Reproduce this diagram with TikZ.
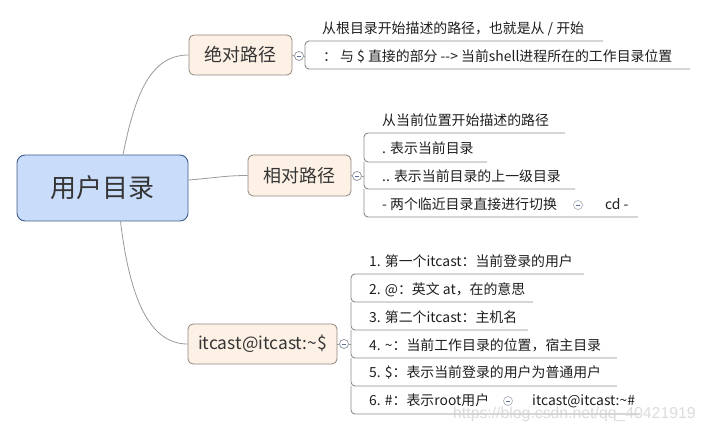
\documentclass[tikz,border=0pt]{standalone}
\usepackage{fontspec}
\setmainfont{Noto Sans CJK SC}
\newfontfamily\wmfont{Liberation Sans}
\usetikzlibrary{calc}
\definecolor{rootfill}{HTML}{C9DCFA}
\definecolor{rootdraw}{HTML}{3F5B8C}
\definecolor{branchfill}{HTML}{FDF1E6}
\definecolor{branchdraw}{HTML}{8F857C}
\definecolor{conncolor}{HTML}{9A9A9A}
\definecolor{bracketcolor}{HTML}{8A8A8A}
\definecolor{textdark}{HTML}{353535}
\definecolor{itemtext}{HTML}{1E1E1E}
\definecolor{togdraw}{HTML}{8E90A0}
\definecolor{togminus}{HTML}{5A6EA0}
\definecolor{wmcolor}{HTML}{D2D2D2}
\begin{document}
\begin{tikzpicture}[x=1pt,y=-1pt,
  rootbox/.style={draw=rootdraw, fill=rootfill, rounded corners=8pt, line width=0.9pt,
    minimum width=171pt, minimum height=66pt, inner sep=0pt,
    font=\fontsize{26}{30}\selectfont, text=textdark},
  branchbox/.style={draw=branchdraw, fill=branchfill, rounded corners=5pt, line width=0.8pt,
    minimum height=40pt, inner sep=0pt, font=\fontsize{18}{22}\selectfont, text=textdark},
  item/.style={anchor=west, inner sep=0pt, font=\fontsize{13.9}{16}\selectfont,
    text=itemtext, text height=11.8pt, text depth=2pt},
  conn/.style={draw=conncolor, line width=0.8pt},
  bracket/.style={draw=bracketcolor, line width=0.9pt, rounded corners=4pt},
  toggle/.style={circle, draw=togdraw, fill=white, minimum size=9pt, inner sep=0pt, line width=0.7pt,
    path picture={\draw[togminus, line width=0.7pt]
      ([xshift=-2.3pt]path picture bounding box.center) -- ([xshift=2.3pt]path picture bounding box.center);}},
  ltoggle/.style={toggle, draw=togdraw!70}
]
\useasboundingbox (0,0) rectangle (706,430);

% root and main branches
\node[rootbox] (root) at (102.5,188) {用户目录};
\node[branchbox, minimum width=103pt] (b1) at (240.5,55) {绝对路径};
\node[branchbox, minimum width=103pt, minimum height=41pt] (b2) at (299.5,175.5) {相对路径};
\node[branchbox, minimum width=149pt, font=\fontsize{17.4}{22}\selectfont] (b3) at (262.5,344) {itcast@itcast:\textasciitilde\$};

\draw[conn] ([xshift=20.5pt]root.north) .. controls (135,95) and (150,55) .. (b1.west);
\draw[conn] ([yshift=8pt]root.east) .. controls (215,178) and (225,175.5) .. (b2.west);
\draw[conn] ([xshift=18pt]root.south) .. controls (130,300) and (150,344) .. (b3.west);

% toggles
\node[toggle] (t1) at (299,56) {};
\node[toggle] (t2) at (357,176) {};
\node[toggle] (t3) at (344,344) {};
\draw[conn] (b1.east) -- (t1.west);
\draw[conn] (b2.east) -- (t2.west);
\draw[conn] (b3.east) -- (t3.west);
\coordinate (k1) at (305,56);
\coordinate (k2) at (364,176);
\coordinate (k3) at (351,344);
\draw[conn] (t1.east) -- (k1);
\draw[conn] (t2.east) -- (k2);
\draw[conn] (t3.east) -- (k3);

% branch 1 items
\node[item] (a1) at (322,29) {从根目录开始描述的路径，也就是从 / 开始};
\node[item] (a2) at (323,57) {： 与 \$ 直接的部分 {-}{-}> 当前shell进程所在的工作目录位置};
\draw[bracket] (603,41) -- (305,41) -- (305,69) -- (690,69);

% branch 2 items
\node[item] (r1) at (382,121) {从当前位置开始描述的路径};
\node[item] (r2) at (382,149) {. 表示当前目录};
\node[item] (r3) at (382,177) {.. 表示当前目录的上一级目录};
\node[item] (r4) at (382,205) {- 两个临近目录直接进行切换};
\node[ltoggle] (t4) at (578,205) {};
\node[item] (r5) at (605,205) {cd -};
\draw[bracket] (565,133) -- (364,133) -- (364,162) -- (487,162);
\draw[bracket] (364,162) -- (364,189) -- (575,189);
\draw[bracket] (364,189) -- (364,217) -- (638,217);

% branch 3 items
\node[item] (c1) at (369,262) {1. 第一个itcast：当前登录的用户};
\node[item] (c2) at (369,290) {2. @：英文 at，在的意思};
\node[item] (c3) at (369,318) {3. 第二个itcast：主机名};
\node[item] (c4) at (369,346) {4. \textasciitilde：当前工作目录的位置，宿主目录};
\node[item] (c5) at (369,373) {5. \$：表示当前登录的用户为普通用户};
\node[item] (c6) at (369,401) {6. \#：表示root用户};
\node[ltoggle] (t5) at (508,401) {};
\node[item] (c7) at (532,401) {itcast@itcast:\textasciitilde\#};
\draw[bracket] (584,274) -- (351,274) -- (351,302) -- (533,302);
\draw[bracket] (351,302) -- (351,330) -- (528,330);
\draw[bracket] (351,330) -- (351,358) -- (617,358);
\draw[bracket] (351,358) -- (351,386) -- (617,386);
\draw[bracket] (351,386) -- (351,414) -- (640,414);

% watermark
\node[anchor=west, inner sep=0pt, text=wmcolor, opacity=0.8,
  font=\wmfont\fontsize{15.8}{18}\selectfont] (wm) at (453,414) {https://blog.csdn.net/qq\_40421919};
\end{tikzpicture}
\end{document}
